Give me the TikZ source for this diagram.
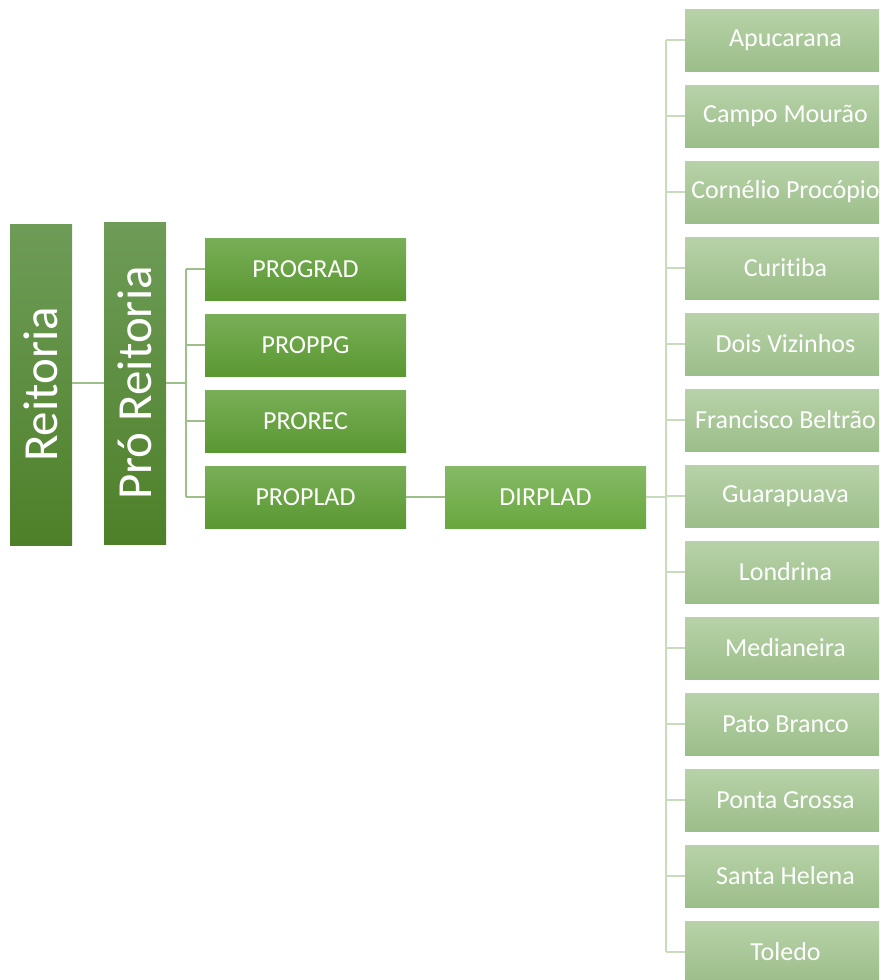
\documentclass[tikz,border=0pt]{standalone}
\usepackage{fontspec}
\setmainfont{Carlito}[Ligatures={NoCommon}]
\usetikzlibrary{positioning,chains}

\definecolor{topA}{HTML}{6E9C58}
\definecolor{botA}{HTML}{4E8029}
\definecolor{topB}{HTML}{79AE58}
\definecolor{botB}{HTML}{5A9831}
\definecolor{topC}{HTML}{86BA66}
\definecolor{botC}{HTML}{68A83E}
\definecolor{topD}{HTML}{B7D2A9}
\definecolor{botD}{HTML}{9CBE89}
\definecolor{linkA}{HTML}{9DC08B}
\definecolor{linkB}{HTML}{C8DCBB}

\begin{document}
\begin{tikzpicture}[x=1pt,y=1pt,
    box/.style={minimum width=201pt,minimum height=62pt,inner sep=0pt,
        outer sep=0pt,text=white,font=\fontsize{26}{30}\selectfont},
    head/.style={box,minimum width=321pt,rotate=90,
        font=\fontsize{49}{56}\selectfont,top color=topA,bottom color=botA},
    pro/.style={box,top color=topB,bottom color=botB},
    dir/.style={box,top color=topC,bottom color=botC},
    campus/.style={box,top color=topD,bottom color=botD},
    linka/.style={draw=linkA,line width=1.3pt},
    linkb/.style={draw=linkB,line width=1.3pt}
    ]
\path[use as bounding box,clip] (0,0) rectangle (879,-980);
% reitoria and pro reitoria (rotated: north is left, south is right)
\node[head] (reit) at (41,-384.5) {Reitoria};
\node[head,minimum width=322pt] (prorei) at (135,-383) {Pró Reitoria};
% pro reitorias
\path[start chain=going below,node distance=14pt] (305.5,-269)
  node[pro,on chain] (prograd) {PROGRAD}
  node[pro,on chain] (proppg) {PROPPG}
  node[pro,on chain] (prorec) {PROREC}
  node[pro,on chain] (proplad) {PROPLAD};
\node[dir,right=39pt of proplad] (dirplad) {DIRPLAD};
% campi
\path[start chain=going below,node distance=14pt] (785.5,-40)
  node[campus,on chain] (apuc) {Apucarana}
  node[campus,on chain] (campo) {Campo Mourão}
  node[campus,on chain] (corn) {Cornélio Procópio}
  node[campus,on chain] (curi) {Curitiba}
  node[campus,on chain] (dois) {Dois Vizinhos}
  node[campus,on chain] (fran) {Francisco Beltrão}
  node[campus,on chain] (guara) {Guarapuava}
  node[campus,on chain] (lond) {Londrina}
  node[campus,on chain] (medi) {Medianeira}
  node[campus,on chain] (pato) {Pato Branco}
  node[campus,on chain] (ponta) {Ponta Grossa}
  node[campus,on chain] (santa) {Santa Helena}
  node[campus,on chain] (tole) {Toledo};
% links
\draw[linka] (reit.south |- prorei.north) -- (prorei.north);
\draw[linka] (prorei.south) -- ++(20,0) coordinate (pbus);
\draw[linka] (pbus |- prograd.west) -- (pbus |- proplad.west);
\foreach \n in {prograd,proppg,prorec,proplad}
  \draw[linka] (pbus |- \n.west) -- (\n.west);
\draw[linka] (proplad.east) -- (dirplad.west);
\draw[linkb] (dirplad.east) -- ++(20,0) coordinate (dbus);
\draw[linkb] (dbus |- apuc.west) -- (dbus |- tole.west);
\foreach \n in {apuc,campo,corn,curi,dois,fran,guara,lond,medi,pato,ponta,santa,tole}
  \draw[linkb] (dbus |- \n.west) -- (\n.west);
\end{tikzpicture}
\end{document}
